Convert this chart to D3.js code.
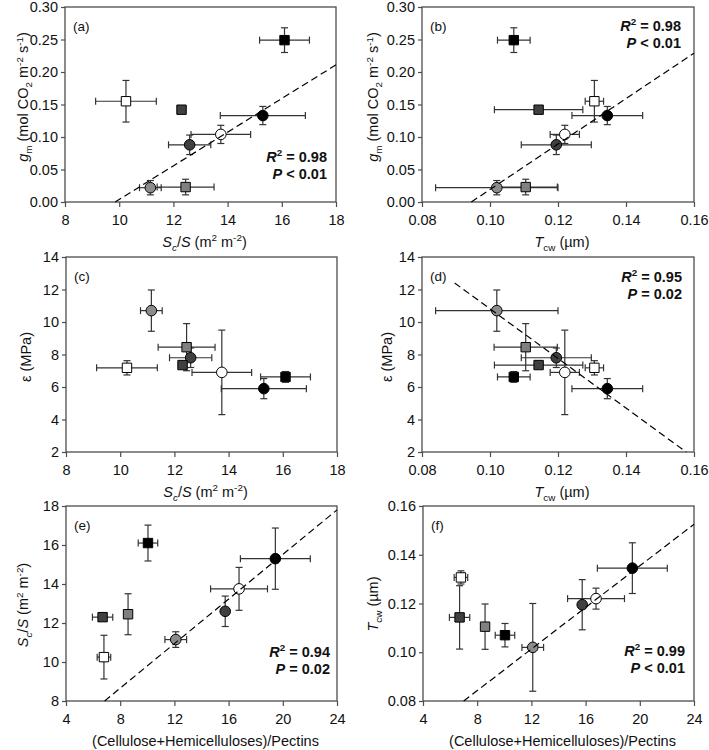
<!DOCTYPE html>
<html>
<head>
<meta charset="utf-8">
<script src="https://cdn.jsdelivr.net/npm/d3@7"></script>
<style>
    body { margin: 0; background: #fff; }
    svg { font-family: "Liberation Sans", Arial, sans-serif; }
</style>
</head>
<body>
<div class="container"></div>
<script>
// groups: gray circle, dark circle, white circle, black circle,
//         white square, dark square, gray square, black square
var shapes = ['circle', 'circle', 'circle', 'circle', 'square', 'square', 'square', 'square'];
var fills = ['#8c8c8c', '#404040', '#ffffff', '#000000', '#ffffff', '#404040', '#808080', '#000000'];

var scs = [11.15, 12.6, 13.75, 15.3, 10.25, 12.3, 12.45, 16.1];
var scsErr = [0.4, 0.78, 1.1, 1.57, 1.12, 0.15, 1.05, 0.92];
var gm = [0.022, 0.088, 0.104, 0.133, 0.155, 0.142, 0.023, 0.249];
var gmErr = [0.011, 0.015, 0.014, 0.014, 0.032, 0.004, 0.012, 0.019];
var tcw = [0.102, 0.1195, 0.122, 0.1345, 0.1307, 0.1143, 0.1105, 0.107];
var tcwErr = [0.018, 0.0103, 0.0043, 0.0104, 0.0027, 0.013, 0.0093, 0.0048];
var eps = [10.7, 7.8, 6.9, 5.9, 7.18, 7.35, 8.45, 6.62];
var epsErr = [1.27, 0.6, 2.6, 0.62, 0.44, 0.15, 1.45, 0.33];
var ratio = [12.1, 15.75, 16.77, 19.45, 6.8, 6.7, 8.58, 10.05];
var ratioErr = [0.8, 0.1, 2.1, 2.58, 0.5, 0.75, 0.1, 0.72];

// regression lines (end points)
var fitA = {x: [9.85, 18], y: [0, 0.211]};
var fitB = {x: [0.0945, 0.16], y: [0, 0.229]};
var fitD = {x: [0.0896, 0.1577], y: [12.4, 2]};
var fitE = {x: [6.85, 24], y: [8, 17.8]};
var fitF = {x: [7.0, 24], y: [0.08, 0.1525]};

var r2Labels = ['0.98', '0.98', null, '0.95', '0.94', '0.99'];
var pLabels = ['< 0.01', '< 0.01', null, '= 0.02', '= 0.02', '< 0.01'];

var ticksScs = [8, 10, 12, 14, 16, 18];
var ticksTcw = [0.08, 0.10, 0.12, 0.14, 0.16];
var ticksGm = [0, 0.05, 0.10, 0.15, 0.20, 0.25, 0.30];
var ticksEps = [2, 4, 6, 8, 10, 12, 14];
var ticksScsY = [8, 10, 12, 14, 16, 18];
var ticksRatio = [4, 8, 12, 16, 20, 24];

var titleScs = [{t: 'S', i: 1}, {t: 'c', sub: 1, i: 1}, {t: '/'}, {t: 'S', i: 1}, {t: ' (m'}, {t: '2', sup: 1}, {t: ' m'}, {t: '-2', sup: 1}, {t: ')'}];
var titleTcw = [{t: 'T', i: 1}, {t: 'cw', sub: 1}, {t: ' (\u00b5m)'}];
var titleGm = [{t: 'g', i: 1}, {t: 'm', sub: 1}, {t: ' (mol CO'}, {t: '2', sub: 1}, {t: ' m'}, {t: '-2', sup: 1}, {t: ' s'}, {t: '-1', sup: 1}, {t: ')'}];
var titleEps = [{t: '\u03b5 (MPa)'}];
var titleRatio = [{t: '(Cellulose+Hemicelluloses)/Pectins'}];

var svg = d3.select('.container')
    .append('svg')
    .attr('width', 709)
    .attr('height', 750);

function richText(sel, parts, size) {
    var shift = 0;
    parts.forEach(function (p) {
        var target = p.sub ? size * 0.28 : (p.sup ? -size * 0.38 : 0);
        var ts = sel.append('tspan').text(p.t).attr('dy', target - shift);
        shift = target;
        if (p.sub || p.sup) ts.attr('font-size', size * 0.68);
        if (p.i) ts.attr('font-style', 'italic');
    });
}

var panels = [
    {label: '(a)', x: scs, xe: scsErr, y: gm, ye: gmErr, left: 65, top: 7, w: 271,
        xd: [8, 18], yd: [0, 0.30], xt: ticksScs, yt: ticksGm, xf: d3.format('d'), yf: d3.format('.2f'),
        xTitle: titleScs, yTitle: titleGm, yTitleX: -42, yTitleY: 90, fit: fitA, stat: 0, sx: 262, sy: 155},
    {label: '(b)', x: tcw, xe: tcwErr, y: gm, ye: gmErr, left: 422, top: 7, w: 272,
        xd: [0.08, 0.16], yd: [0, 0.30], xt: ticksTcw, yt: ticksGm, xf: d3.format('.2f'), yf: d3.format('.2f'),
        xTitle: titleTcw, yTitle: titleGm, yTitleX: -49, yTitleY: 90, fit: fitB, stat: 1, sx: 259, sy: 24},
    {label: '(c)', x: scs, xe: scsErr, y: eps, ye: epsErr, left: 66, top: 257, w: 271,
        xd: [8, 18], yd: [2, 14], xt: ticksScs, yt: ticksEps, xf: d3.format('d'), yf: d3.format('d'),
        xTitle: titleScs, yTitle: titleEps, yTitleX: -40, yTitleY: 100, fit: null, stat: 2},
    {label: '(d)', x: tcw, xe: tcwErr, y: eps, ye: epsErr, left: 422, top: 257, w: 272,
        xd: [0.08, 0.16], yd: [2, 14], xt: ticksTcw, yt: ticksEps, xf: d3.format('.2f'), yf: d3.format('d'),
        xTitle: titleTcw, yTitle: titleEps, yTitleX: -35, yTitleY: 100, fit: fitD, stat: 3, sx: 260, sy: 25},
    {label: '(e)', x: ratio, xe: ratioErr, y: scs, ye: scsErr, left: 66, top: 506, w: 271,
        xd: [4, 24], yd: [8, 18], xt: ticksRatio, yt: ticksScsY, xf: d3.format('d'), yf: d3.format('d'),
        xTitle: titleRatio, yTitle: titleScs, yTitleX: -43, yTitleY: 99, fit: fitE, stat: 4, sx: 264, sy: 151},
    {label: '(f)', x: ratio, xe: ratioErr, y: tcw, ye: tcwErr, left: 423, top: 506, w: 271,
        xd: [4, 24], yd: [0.08, 0.16], xt: ticksRatio, yt: ticksTcw, xf: d3.format('d'), yf: d3.format('.2f'),
        xTitle: titleRatio, yTitle: titleTcw, yTitleX: -50, yTitleY: 98, fit: fitF, stat: 5, sx: 262, sy: 150}
];

var H = 195;

panels.forEach(function (p) {
    var g = svg.append('g').attr('transform', 'translate(' + p.left + ',' + p.top + ')');
    var x = d3.scaleLinear().domain(p.xd).range([0, p.w]);
    var y = d3.scaleLinear().domain(p.yd).range([H, 0]);

    // frame
    g.append('rect')
        .attr('width', p.w).attr('height', H)
        .attr('fill', 'none').attr('stroke', '#4d4d4d').attr('stroke-width', 1.3);

    var xAxis = d3.axisBottom(x).tickValues(p.xt).tickFormat(p.xf).tickSize(5).tickPadding(8);
    var yAxis = d3.axisLeft(y).tickValues(p.yt).tickFormat(p.yf).tickSize(4).tickPadding(3);

    var gx = g.append('g').attr('transform', 'translate(0,' + H + ')').call(xAxis);
    var gy = g.append('g').call(yAxis);
    [gx, gy].forEach(function (a) {
        a.select('.domain').remove();
        a.selectAll('line').attr('stroke', '#4d4d4d').attr('stroke-width', 1.2);
        a.selectAll('text').attr('font-size', 14.5).attr('fill', '#111')
            .attr('font-family', '"Liberation Sans", Arial, sans-serif');
    });

    // axis titles
    var xt = g.append('text')
        .attr('x', p.w / 2 + 4).attr('y', H + 45)
        .attr('text-anchor', 'middle').attr('font-size', 14.5).attr('fill', '#111');
    richText(xt, p.xTitle, 14.5);

    var yt = g.append('text')
        .attr('transform', 'translate(' + (p.yTitleX + 5) + ',' + p.yTitleY + ') rotate(-90)')
        .attr('text-anchor', 'middle').attr('font-size', 14.5).attr('fill', '#111');
    richText(yt, p.yTitle, 14.5);

    // panel label
    g.append('text').attr('x', 8).attr('y', 24).attr('font-size', 13.5).attr('fill', '#111').text(p.label);

    var idx = d3.range(p.x.length);
    var cap = 3.5;
    var eb = g.append('g').attr('stroke', '#333').attr('stroke-width', 1.2).attr('fill', 'none');

    idx.forEach(function (i) {
        var cx = x(p.x[i]), cy = y(p.y[i]);
        var x0 = x(p.x[i] - p.xe[i]), x1 = x(p.x[i] + p.xe[i]);
        var y0 = y(p.y[i] - p.ye[i]), y1 = y(p.y[i] + p.ye[i]);
        eb.append('line').attr('x1', x0).attr('x2', x1).attr('y1', cy).attr('y2', cy);
        eb.append('line').attr('x1', x0).attr('x2', x0).attr('y1', cy - cap).attr('y2', cy + cap);
        eb.append('line').attr('x1', x1).attr('x2', x1).attr('y1', cy - cap).attr('y2', cy + cap);
        eb.append('line').attr('x1', cx).attr('x2', cx).attr('y1', y0).attr('y2', y1);
        eb.append('line').attr('x1', cx - cap).attr('x2', cx + cap).attr('y1', y0).attr('y2', y0);
        eb.append('line').attr('x1', cx - cap).attr('x2', cx + cap).attr('y1', y1).attr('y2', y1);
    });

    // markers
    g.selectAll('.mk')
        .data(idx)
        .enter()
        .append('path')
        .attr('class', 'mk')
        .attr('transform', function (i) {
            return 'translate(' + x(p.x[i]) + ',' + y(p.y[i]) + ')';
        })
        .attr('d', function (i) {
            return shapes[i] === 'circle'
                ? d3.symbol().type(d3.symbolCircle).size(Math.PI * 5.3 * 5.3)()
                : d3.symbol().type(d3.symbolSquare).size(9.4 * 9.4)();
        })
        .attr('fill', function (i) { return fills[i]; })
        .attr('stroke', '#000')
        .attr('stroke-width', 1);

    // regression line
    if (p.fit) {
        g.append('line')
            .attr('x1', x(p.fit.x[0])).attr('y1', y(p.fit.y[0]))
            .attr('x2', x(p.fit.x[1])).attr('y2', y(p.fit.y[1]))
            .attr('stroke', '#000').attr('stroke-width', 1.2)
            .attr('stroke-dasharray', '7,4');
    }

    // stats
    if (r2Labels[p.stat]) {
        var t1 = g.append('text').attr('x', p.sx).attr('y', p.sy)
            .attr('text-anchor', 'end').attr('font-size', 14.5).attr('font-weight', 'bold').attr('fill', '#111');
        richText(t1, [{t: 'R', i: 1}, {t: '2', sup: 1}, {t: ' = ' + r2Labels[p.stat]}], 14.5);
        var t2 = g.append('text').attr('x', p.sx).attr('y', p.sy + 16.5)
            .attr('text-anchor', 'end').attr('font-size', 14.5).attr('font-weight', 'bold').attr('fill', '#111');
        richText(t2, [{t: 'P', i: 1}, {t: ' ' + pLabels[p.stat]}], 14.5);
    }
});
</script>
</body>
</html>
